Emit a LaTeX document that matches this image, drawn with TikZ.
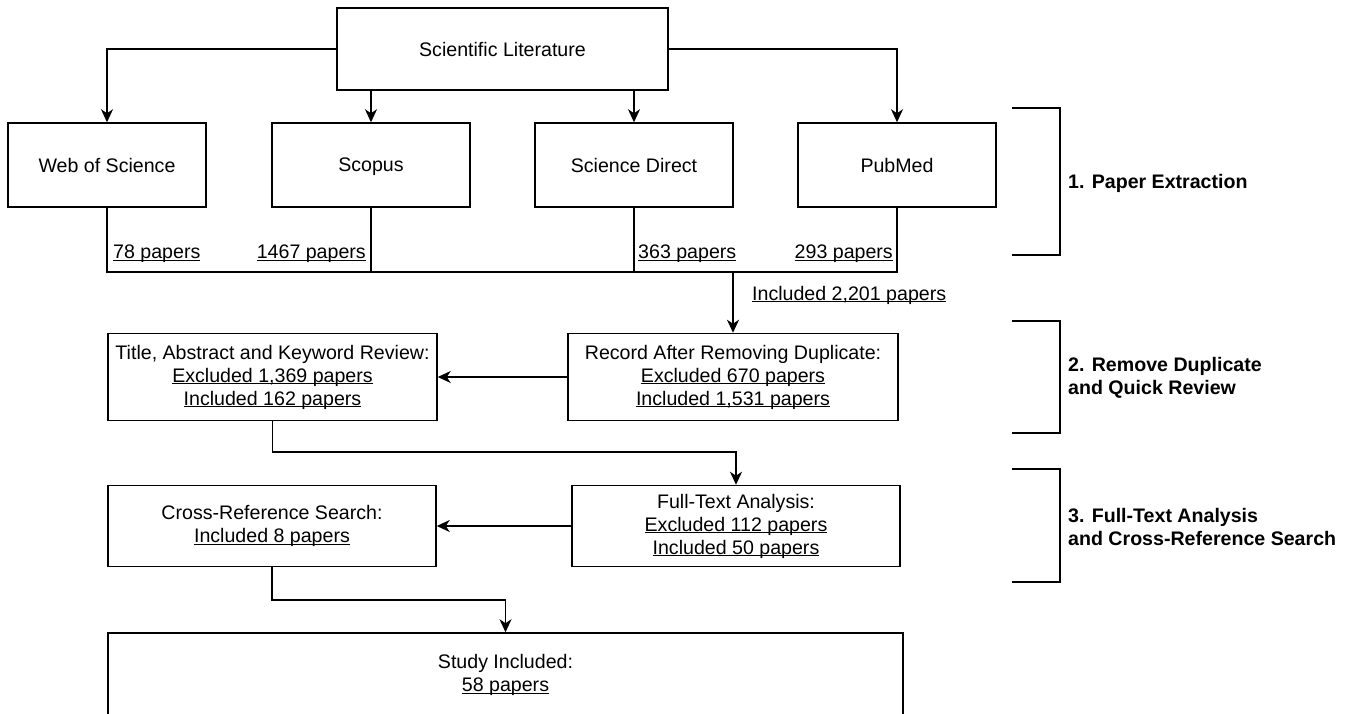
\documentclass[tikz,border=0pt]{standalone}
\usepackage{fontspec}
\setmainfont{Liberation Sans}
\usetikzlibrary{arrows.meta}

\newcommand{\undl}[1]{\setbox0=\hbox{#1}\rlap{\rule[-2.4pt]{\wd0}{1.3pt}}\box0}

\begin{document}
\begin{tikzpicture}[x=1pt,y=-1pt,
        every node/.style={font=\fontsize{19.6}{23}\selectfont},
        box/.style={draw, line width=1.5pt, align=center, inner sep=2pt},
        cnt/.style={inner sep=2pt},
        ln/.style={line width=1.5pt},
        arr/.style={line width=1.5pt, -{Stealth[length=13pt,width=12pt,inset=4pt]}},
        brk/.style={line width=2.8pt},
        phase/.style={font=\fontsize{19.6}{23}\selectfont\bfseries, align=left, anchor=west, inner sep=2pt}]
        \useasboundingbox (0,0) rectangle (1350,713);
        \clip (0,0) rectangle (1350,713);
        \node[box, text depth=0pt, minimum width=331pt, minimum height=82pt] (lit) at (502.5,49) {Scientific Literature};
        \foreach \n/\x/\t in {1/107/Web of Science, 2/371/Scopus, 3/634/Science Direct, 4/897/PubMed}{%
                \node[box, text depth=0pt, minimum width=198pt, minimum height=84pt] (d\n) at (\x,165) {\t};
            }
        \draw[arr] (lit.west) -| (d1.north);
        \draw[arr] (lit.east) -| (d4.north);
        \draw[arr] (lit.south -| d2.north) -- (d2.north);
        \draw[arr] (lit.south -| d3.north) -- (d3.north);
        \coordinate (bus) at (0,272);
        \draw[ln] (d1.south) -- (d1.south |- bus) -- (d4.south |- bus) -- (d4.south);
        \draw[ln] (d2.south) -- (d2.south |- bus);
        \draw[ln] (d3.south) -- (d3.south |- bus);
        \node[cnt, anchor=west] (n1) at (111,254) {\undl{78 papers}};
        \node[cnt, anchor=east] (n2) at (368,254) {\undl{1467 papers}};
        \node[cnt, anchor=west] (n3) at (636,254) {\undl{363 papers}};
        \node[cnt, anchor=east] (n4) at (895,254) {\undl{293 papers}};
        \node[cnt, anchor=west] (n5) at (750,295) {\undl{Included 2,201 papers}};
        \node[box, minimum width=330pt, minimum height=87pt] (rec) at (733,377) {Record After Removing Duplicate:\\\undl{Excluded 670 papers}\\\undl{Included 1,531 papers}};
        \node[box, minimum width=329pt, minimum height=87pt] (tak) at (272.5,377) {Title, Abstract and Keyword Review:\\\undl{Excluded 1,369 papers}\\\undl{Included 162 papers}};
        \draw[arr] (rec.north |- bus) -- (rec.north);
        \draw[arr] (rec.west) -- (tak.east);
        \node[box, minimum width=328pt, minimum height=81pt] (ful) at (736,526) {Full-Text Analysis:\\\undl{Excluded 112 papers}\\\undl{Included 50 papers}};
        \node[box, minimum width=328pt, minimum height=81pt] (crs) at (272,526) {Cross-Reference Search:\\\undl{Included 8 papers}};
        \coordinate (m1) at (0,452);
        \draw[arr] (tak.south) -- (tak.south |- m1) -| (ful.north);
        \draw[arr] (ful.west) -- (crs.east);
        \node[box, minimum width=795pt, minimum height=84pt] (stu) at (505.5,675) {Study Included:\\\undl{58 papers}};
        \coordinate (m2) at (0,600);
        \draw[arr] (crs.south) -- (crs.south |- m2) -| (stu.north);
        % phases
        \draw[brk] (1012,108) -- (1060,108) -- (1060,255) -- (1012,255);
        \node[phase] (p1) at (1066,183) {1. Paper Extraction};
        \draw[brk] (1012,321) -- (1060,321) -- (1060,433) -- (1012,433);
        \node[phase] (p2) at (1066,377.5) {2. Remove Duplicate\\and Quick Review};
        \draw[brk] (1012,469) -- (1060,469) -- (1060,582) -- (1012,582);
        \node[phase] (p3) at (1066,526.5) {3. Full-Text Analysis\\and Cross-Reference Search};
    \end{tikzpicture}
\end{document}
